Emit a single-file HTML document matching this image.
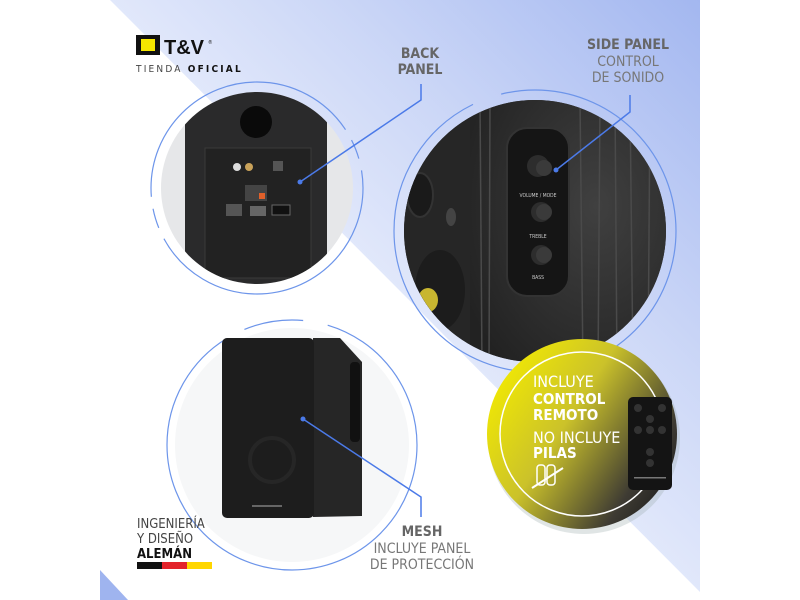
<!DOCTYPE html>
<html><head><meta charset="utf-8"><style>
body{margin:0;width:800px;height:600px;overflow:hidden;background:#fff;font-family:"DejaVu Sans Condensed","DejaVu Sans","Liberation Sans",sans-serif}
svg{display:block}
</style></head><body>
<svg width="800" height="600" viewBox="0 0 800 600" xmlns="http://www.w3.org/2000/svg">
<defs>
<linearGradient id="bg" x1="0.35" y1="0.65" x2="1" y2="0">
<stop offset="0" stop-color="#f2f5fe"/><stop offset="0.5" stop-color="#cdd8f7"/><stop offset="1" stop-color="#a3b7f0"/></linearGradient>
<linearGradient id="yl" x1="0" y1="0.2" x2="1" y2="0.85">
<stop offset="0" stop-color="#f4ec00"/><stop offset="0.4" stop-color="#cbc22a"/><stop offset="0.8" stop-color="#3e3b33"/><stop offset="1" stop-color="#1a1a1a"/></linearGradient>
<radialGradient id="dk" cx="0.6" cy="0.4" r="0.7"><stop offset="0" stop-color="#404040"/><stop offset="1" stop-color="#222"/></radialGradient>
<clipPath id="c1"><circle cx="257" cy="188" r="96"/></clipPath>
<clipPath id="c2"><circle cx="535" cy="231" r="131"/></clipPath>
</defs>
<polygon points="110,0 700,0 700,592" fill="url(#bg)"/>
<polygon points="100,570 100,600 128,600" fill="#9fb4ef"/>

<rect x="136" y="35" width="24" height="20" fill="#111"/>
<rect x="141" y="39" width="14" height="12" fill="#f5e600"/>
<text x="164" y="54" font-family="Liberation Sans" font-weight="bold" font-size="20" fill="#111">T&amp;V</text>
<text x="208" y="44" font-size="5" fill="#111">®</text>
<text x="136" y="72" font-size="10" letter-spacing="2.2" fill="#444">TIENDA <tspan font-weight="bold" fill="#111">OFICIAL</tspan></text>

<circle cx="257" cy="188" r="106" fill="none" stroke="#6d95ea" stroke-width="1.2" stroke-dasharray="280 12 20 12"/>
<circle cx="257" cy="188" r="96" fill="#e6e7e9"/>
<g clip-path="url(#c1)">
<rect x="185" y="92" width="142" height="200" rx="8" fill="#2a2a2b"/>
<circle cx="256" cy="122" r="16" fill="#0a0a0a"/>
<rect x="205" y="148" width="106" height="130" fill="#222" stroke="#3a3a3a"/>
<circle cx="237" cy="167" r="4" fill="#ddd"/><circle cx="249" cy="167" r="4" fill="#c9a25a"/>
<rect x="273" y="161" width="10" height="10" fill="#555"/>
<rect x="245" y="185" width="22" height="16" fill="#444"/><rect x="259" y="193" width="6" height="6" fill="#e0602a"/>
<rect x="226" y="204" width="16" height="12" fill="#555"/>
<rect x="250" y="206" width="16" height="10" fill="#666"/>
<rect x="272" y="205" width="18" height="10" fill="#111" stroke="#666"/>
</g>
<text x="420" y="58" text-anchor="middle" font-weight="bold" font-size="14" fill="#666">BACK</text>
<text x="420" y="74" text-anchor="middle" font-weight="bold" font-size="14" fill="#666">PANEL</text>
<polyline points="421,84 421,100 300,182" fill="none" stroke="#4b7ae8" stroke-width="1.5"/>
<circle cx="300" cy="182" r="2.5" fill="#4b7ae8"/>

<circle cx="535" cy="231" r="141" fill="none" stroke="#6d95ea" stroke-width="1.2" stroke-dasharray="600 30"/>
<circle cx="535" cy="231" r="131" fill="#2a2a2a"/>
<g clip-path="url(#c2)">
<rect x="470" y="90" width="210" height="290" fill="url(#dk)"/>
<g stroke="#4a4a4a" stroke-width="1.5">
<line x1="480" y1="100" x2="482" y2="370"/><line x1="490" y1="100" x2="489" y2="370"/><line x1="580" y1="100" x2="583" y2="370"/><line x1="600" y1="100" x2="598" y2="370"/><line x1="615" y1="100" x2="617" y2="370"/><line x1="630" y1="100" x2="633" y2="370"/><line x1="650" y1="100" x2="648" y2="370"/></g>
<rect x="400" y="90" width="70" height="300" fill="#262626"/>
<ellipse cx="420" cy="195" rx="13" ry="22" fill="#1a1a1a" stroke="#333" stroke-width="2"/>
<ellipse cx="451" cy="217" rx="5" ry="9" fill="#444"/>
<ellipse cx="440" cy="290" rx="25" ry="40" fill="#1c1c1c"/>
<ellipse cx="428" cy="300" rx="10" ry="12" fill="#c8b630"/>
<rect x="507" y="128" width="62" height="168" rx="20" fill="#151515" stroke="#333" stroke-width="2"/>
<circle cx="538" cy="166" r="11" fill="#2d2d2d"/><circle cx="544" cy="168" r="8" fill="#3a3a3a"/>
<circle cx="541" cy="212" r="10" fill="#2d2d2d"/><circle cx="544" cy="212" r="8" fill="#3a3a3a"/>
<circle cx="541" cy="255" r="10" fill="#2d2d2d"/><circle cx="544" cy="255" r="8" fill="#3a3a3a"/>
<text x="538" y="197" text-anchor="middle" font-size="5" fill="#ccc">VOLUME / MODE</text>
<text x="538" y="238" text-anchor="middle" font-size="5" fill="#ccc">TREBLE</text>
<text x="538" y="279" text-anchor="middle" font-size="5" fill="#ccc">BASS</text>
</g>
<text x="628" y="49" text-anchor="middle" font-weight="bold" font-size="14" fill="#666">SIDE PANEL</text>
<text x="628" y="66" text-anchor="middle" font-size="14" fill="#777">CONTROL</text>
<text x="628" y="82" text-anchor="middle" font-size="14" fill="#777">DE SONIDO</text>
<polyline points="630,95 630,112 556,170" fill="none" stroke="#4b7ae8" stroke-width="1.5"/>
<circle cx="556" cy="170" r="2.5" fill="#4b7ae8"/>

<circle cx="292" cy="445" r="125" fill="none" stroke="#6d95ea" stroke-width="1.2" stroke-dasharray="520 20 60 25"/>
<circle cx="292" cy="445" r="117" fill="#f6f7f8"/>
<polygon points="313,338 340,338 362,362 362,516 313,517" fill="#262626"/>
<rect x="350" y="362" width="10" height="80" rx="4" fill="#111"/>
<rect x="222" y="338" width="92" height="180" rx="5" fill="#1d1d1d"/>
<circle cx="272" cy="460" r="22" fill="none" stroke="#262626" stroke-width="4"/>
<rect x="252" y="505" width="30" height="2" fill="#666"/>
<polyline points="303,419 421,497 421,517" fill="none" stroke="#4b7ae8" stroke-width="1.5"/>
<circle cx="303" cy="419" r="2.5" fill="#4b7ae8"/>
<text x="422" y="536" text-anchor="middle" font-weight="bold" font-size="14" fill="#666">MESH</text>
<text x="422" y="553" text-anchor="middle" font-size="14" fill="#777">INCLUYE PANEL</text>
<text x="422" y="569" text-anchor="middle" font-size="14" fill="#777">DE PROTECCIÓN</text>

<text x="137" y="528" font-size="13" fill="#444">INGENIERÍA</text>
<text x="137" y="543" font-size="13" fill="#444">Y DISEÑO</text>
<text x="137" y="558" font-weight="bold" font-size="13" fill="#111">ALEMÁN</text>
<rect x="137" y="562" width="25" height="7" fill="#111"/><rect x="162" y="562" width="25" height="7" fill="#e3232b"/><rect x="187" y="562" width="25" height="7" fill="#ffd600"/>

<circle cx="584" cy="438" r="96" fill="#9aa" opacity="0.3"/>
<circle cx="582" cy="434" r="95" fill="url(#yl)"/>
<circle cx="582" cy="434" r="82" fill="none" stroke="#fff" stroke-width="1.5"/>
<text x="533" y="387" font-size="16" fill="#fff">INCLUYE</text>
<text x="533" y="404" font-weight="bold" font-size="15" fill="#fff">CONTROL</text>
<text x="533" y="420" font-weight="bold" font-size="15" fill="#fff">REMOTO</text>
<text x="533" y="443" font-size="16" fill="#fff">NO INCLUYE</text>
<text x="533" y="458" font-weight="bold" font-size="15" fill="#fff">PILAS</text>
<rect x="537" y="465" width="8" height="20" rx="3" fill="none" stroke="#fff" stroke-width="1.5"/>
<rect x="547" y="465" width="8" height="20" rx="3" fill="none" stroke="#fff" stroke-width="1.5"/>
<line x1="532" y1="488" x2="563" y2="468" stroke="#fff" stroke-width="2"/>
<rect x="628" y="397" width="44" height="93" rx="5" fill="#141414"/>
<circle cx="638" cy="408" r="4" fill="#333"/><circle cx="662" cy="408" r="4" fill="#333"/>
<circle cx="650" cy="419" r="4" fill="#333"/><circle cx="638" cy="430" r="4" fill="#333"/><circle cx="650" cy="430" r="4" fill="#333"/><circle cx="662" cy="430" r="4" fill="#333"/>
<circle cx="650" cy="452" r="4" fill="#333"/><circle cx="650" cy="463" r="4" fill="#333"/>
<rect x="634" y="477" width="32" height="1.5" fill="#777"/>
</svg>
</body></html>
